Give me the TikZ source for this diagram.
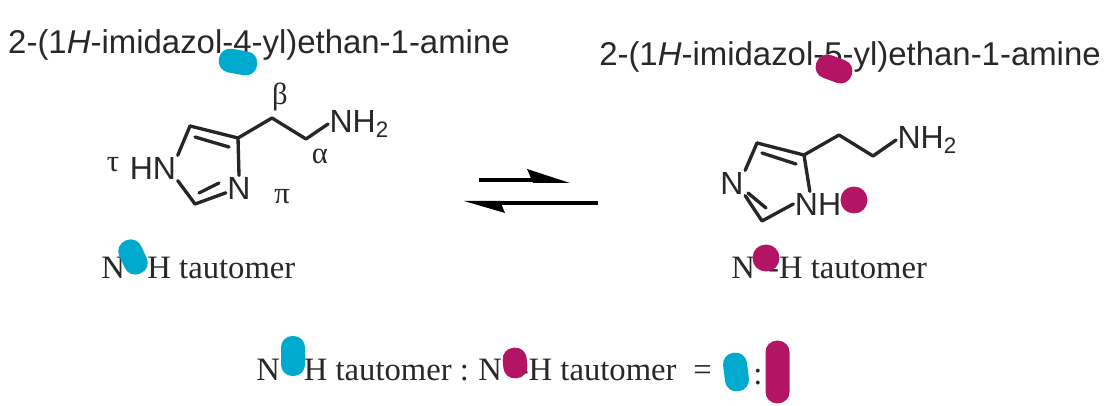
\documentclass[tikz,border=0pt]{standalone}
\usepackage{fontspec}
\setmainfont{Liberation Sans}
\newfontfamily\tmsfont{Liberation Serif}
\definecolor{tau_blue}{RGB}{0, 170, 206}
\definecolor{pi_red}{RGB}{179, 21, 100}
\definecolor{ink}{RGB}{40, 40, 40}
\tikzstyle{title}=[text=ink,inner sep=0pt,font=\fontsize{24.7pt}{28pt}\selectfont]
\tikzstyle{atom}=[text=ink,inner sep=1pt,font=\fontsize{24pt}{28pt}\selectfont]
\tikzstyle{greek}=[text=ink,inner sep=0pt,font=\tmsfont\fontsize{23pt}{26pt}\selectfont]
\tikzstyle{caption}=[text=ink,inner sep=0pt,anchor=west,font=\tmsfont\fontsize{24.5pt}{28pt}\selectfont]
\tikzstyle{bond}=[draw=black!85,line width=2.5pt,line cap=round,line join=round]
\tikzstyle{harrow}=[draw=black,line width=2.6pt]
\tikzstyle{tn}=[rectangle,rounded corners=8.5pt,fill=tau_blue,inner sep=0pt,minimum height=18pt]
\tikzstyle{pn}=[rectangle,rounded corners=8.5pt,fill=pi_red,inner sep=0pt,minimum height=18pt]
\begin{document}
\begin{tikzpicture}[x=0.75pt,y=-0.75pt]
        \useasboundingbox (0,0) rectangle (1117,406);
        % left tautomer
        \node [style=title] (name1) at (259,44.5) {2-(1\textit{H}-imidazol-4-yl)ethan-1-amine};
        \coordinate (c4) at (238,138);
        \coordinate (c5) at (190,126);
        \coordinate (c2) at (195,204);
        \coordinate (cb) at (272,118);
        \coordinate (ca) at (306,139);
        \coordinate (c5i) at (195,137);
        \coordinate (c4i) at (229,147);
        \coordinate (c2i) at (199,193);
        \coordinate (n3i) at (219,183);
        \node [style=atom] (hn) at (153,168) {HN};
        \node [style=atom] (n3) at (239,188) {N};
        \node [style=atom,anchor=west] (nh2) at (328,124) {NH\textsubscript{2}};
        \draw [style=bond] (c5) to (hn.north east);
        \draw [style=bond] (hn.south east) to (c2) to (n3.200);
        \draw [style=bond] (c2i) to (n3i);
        \draw [style=bond] (n3.north) to (c4) to (c5);
        \draw [style=bond] (c5i) to (c4i);
        \draw [style=bond] (c4) to (cb) to (ca) to (nh2.west);
        \node [style=greek] (tau) at (113,165) {τ};
        \node [style=greek] (beta) at (280,97) {β};
        \node [style=greek] (alpha) at (320,156) {α};
        \node [style=greek] (pi) at (282,197) {π};
        \node [style=caption] (cap1) at (101,268) {N\hspace{17pt}H tautomer};
        % right tautomer
        \node [style=title] (name2) at (850,56.5) {2-(1\textit{H}-imidazol-5-yl)ethan-1-amine};
        \coordinate (d4) at (804,155);
        \coordinate (d5) at (757,143);
        \coordinate (d2) at (762,221);
        \coordinate (db) at (839,135);
        \coordinate (da) at (873,156);
        \coordinate (d5i) at (762,153);
        \coordinate (d4i) at (796,164);
        \coordinate (d2i) at (766,208);
        \coordinate (n1i) at (748,193);
        \node [style=atom] (n1) at (732,183) {N};
        \node [style=atom] (nh) at (818,204) {NH};
        \node [style=atom,anchor=west] (nh3) at (896,140) {NH\textsubscript{2}};
        \draw [style=bond] (d5) to (n1.north east);
        \draw [style=bond] (n1.south east) to (d2) to (nh.west);
        \draw [style=bond] (n1i) to (d2i);
        \draw [style=bond] (nh.123) to (d4) to (d5);
        \draw [style=bond] (d5i) to (d4i);
        \draw [style=bond] (d4) to (db) to (da) to (nh3.west);
        \node [style=caption] (cap2) at (731,268) {N\hspace{10pt}-H tautomer};
        % equilibrium arrows
        \coordinate (f0) at (479,180);
        \coordinate (f1) at (570,183);
        \coordinate (g0) at (598,203);
        \coordinate (g1) at (464,201);
        \draw [style=harrow] (f0) to (535,180);
        \fill (527,169) -- (f1) -- (533,183) -- cycle;
        \draw [style=harrow] (g0) to (498,203);
        \fill (505,213) -- (g1) -- (500,201) -- cycle;
        % ratio line
        \node [style=caption] (cap3) at (256,370) {N\hspace{18pt}H tautomer :};
        \node [style=caption] (cap4) at (478,370) {N\hspace{12pt}-H tautomer};
        \node [style=caption] (eq) at (693,373) {=};
        \node [style=caption] (colon) at (753,377) {:};
        % marks over the text
        \node [style=tn,minimum width=29pt,rotate=-10] (t1) at (238,62) {};
        \node [style=tn,minimum width=27pt,rotate=-65] (t2) at (133,257) {};
        \node [style=tn,minimum width=30pt,rotate=90] (t3) at (293,356) {};
        \node [style=tn,minimum width=29pt,rotate=-83] (t4) at (736,372) {};
        \node [style=pn,minimum width=28pt,rotate=-20] (p1) at (834,69) {};
        \node [style=pn,minimum width=20pt,minimum height=20pt,rounded corners=9.5pt] (p2) at (854,200) {};
        \node [style=pn,minimum width=20pt,minimum height=20pt,rounded corners=9.5pt] (p3) at (766,258) {};
        \node [style=pn,minimum width=23pt,rotate=-85] (p4) at (515,363) {};
        \node [style=pn,minimum width=47pt,rotate=90] (p5) at (777.5,372) {};
    \end{tikzpicture}
\end{document}
